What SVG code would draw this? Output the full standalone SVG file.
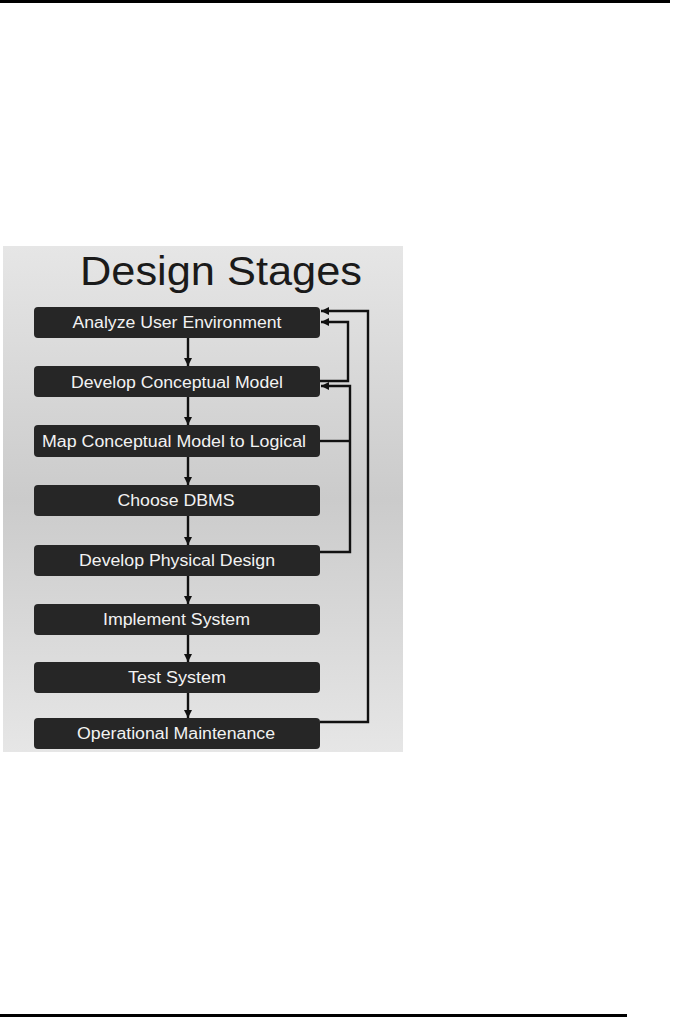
<svg xmlns="http://www.w3.org/2000/svg" width="679" height="1018" viewBox="0 0 679 1018">
<defs>
<linearGradient id="bg" x1="0" y1="0" x2="0" y2="1">
<stop offset="0" stop-color="#e6e6e6"/>
<stop offset="0.5" stop-color="#cbcbcb"/>
<stop offset="1" stop-color="#e6e6e6"/>
</linearGradient>
<marker id="ah" viewBox="0 0 10 10" refX="10" refY="5" markerWidth="3.4" markerHeight="3.4" markerUnits="strokeWidth" orient="auto">
<path d="M0,0 L10,5 L0,10 z" fill="#111"/>
</marker>
</defs>
<style>
.box{fill:#262626;}
.lbl{font-family:"Liberation Sans",Arial,sans-serif;font-size:16px;fill:#f2f2f2;text-anchor:middle;}
.ttl{font-family:"Liberation Sans",Arial,sans-serif;font-size:40px;fill:#1a1a1a;}
.cn{fill:none;stroke:#111;stroke-width:2.4;}
</style>
<rect x="0" y="0" width="670" height="3" fill="#000"/>
<rect x="0" y="1014" width="627" height="3" fill="#000"/>
<rect x="3" y="246" width="400" height="506" fill="url(#bg)"/>
<text class="ttl" x="80" y="285" textLength="282" lengthAdjust="spacingAndGlyphs">Design Stages</text>
<g id="connectors">
<line class="cn" x1="188" y1="337" x2="188" y2="366" marker-end="url(#ah)"/>
<line class="cn" x1="188" y1="397" x2="188" y2="425" marker-end="url(#ah)"/>
<line class="cn" x1="188" y1="457" x2="188" y2="485" marker-end="url(#ah)"/>
<line class="cn" x1="188" y1="516" x2="188" y2="545" marker-end="url(#ah)"/>
<line class="cn" x1="188" y1="576" x2="188" y2="604" marker-end="url(#ah)"/>
<line class="cn" x1="188" y1="635" x2="188" y2="662" marker-end="url(#ah)"/>
<line class="cn" x1="188" y1="693" x2="188" y2="718" marker-end="url(#ah)"/>
<polyline class="cn" points="320,722 368,722 368,311 321,311" marker-end="url(#ah)"/>
<polyline class="cn" points="320,381 348,381 348,322 321,322" marker-end="url(#ah)"/>
<polyline class="cn" points="320,552 350,552 350,386 321,386" marker-end="url(#ah)"/>
<line class="cn" x1="320" y1="441" x2="351" y2="441"/>
</g>
<g id="n1"><rect class="box" x="34" y="307" width="286" height="31" rx="4"/><text class="lbl" x="177" y="328" textLength="209" lengthAdjust="spacingAndGlyphs">Analyze User Environment</text></g>
<g id="n2"><rect class="box" x="34" y="366" width="286" height="31" rx="4"/><text class="lbl" x="177" y="388" textLength="212" lengthAdjust="spacingAndGlyphs">Develop Conceptual Model</text></g>
<g id="n3"><rect class="box" x="34" y="425" width="286" height="32" rx="4"/><text class="lbl" x="174" y="447" textLength="264" lengthAdjust="spacingAndGlyphs">Map Conceptual Model to Logical</text></g>
<g id="n4"><rect class="box" x="34" y="485" width="286" height="31" rx="4"/><text class="lbl" x="176" y="506" textLength="117" lengthAdjust="spacingAndGlyphs">Choose DBMS</text></g>
<g id="n5"><rect class="box" x="34" y="545" width="286" height="31" rx="4"/><text class="lbl" x="177" y="566" textLength="196" lengthAdjust="spacingAndGlyphs">Develop Physical Design</text></g>
<g id="n6"><rect class="box" x="34" y="604" width="286" height="31" rx="4"/><text class="lbl" x="176.5" y="625" textLength="147" lengthAdjust="spacingAndGlyphs">Implement System</text></g>
<g id="n7"><rect class="box" x="34" y="662" width="286" height="31" rx="4"/><text class="lbl" x="177" y="683" textLength="98" lengthAdjust="spacingAndGlyphs">Test System</text></g>
<g id="n8"><rect class="box" x="34" y="718" width="286" height="31" rx="4"/><text class="lbl" x="176" y="739" textLength="198" lengthAdjust="spacingAndGlyphs">Operational Maintenance</text></g>
</svg>
